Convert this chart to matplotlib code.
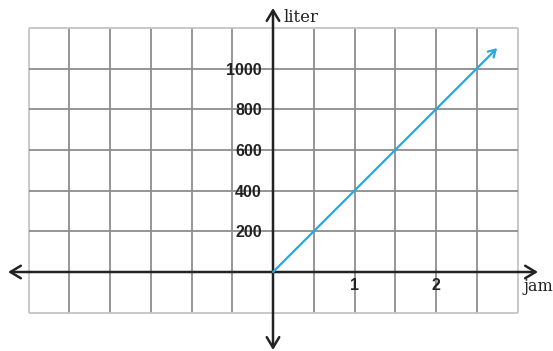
import numpy as np
import matplotlib
matplotlib.use("Agg")
import matplotlib.pyplot as plt

# data
jam = [0, 2.75]
liter = [0, 1100]
x_ticks = [1, 2]
y_ticks = [200, 400, 600, 800, 1000]

fig = plt.figure(figsize=(5.53, 3.51), dpi=100)
ax = fig.add_axes([0, 0, 1, 1])
# pixel mapping: x px = 273 + 81.5*x, y px = 272 - 0.2035*y
ax.set_xlim(-273 / 81.5, 280 / 81.5)
ax.set_ylim(-79 / 0.2035, 272 / 0.2035)
ax.axis("off")

# grid (half hour x 200 liter cells)
gx = np.arange(-3, 3.01, 0.5)
gy = np.arange(-200, 1201, 200)
for v in gx:
    edge = abs(v) == 3
    ax.plot([v, v], [-200, 1200], color="#c4c4c4" if edge else "#8e8e8e",
            lw=1.3, zorder=1, solid_capstyle="butt")
for v in gy:
    edge = v in (-200, 1200)
    ax.plot([-3, 3], [v, v], color="#c4c4c4" if edge else "#8e8e8e",
            lw=1.3, zorder=1, solid_capstyle="butt")

# axes with arrows
axprops = dict(arrowstyle="<->,head_length=0.75,head_width=0.45", color="#222222",
               lw=1.8, shrinkA=0, shrinkB=0)
ax.annotate("", xy=(265 / 81.5, 0), xytext=(-265 / 81.5, 0), arrowprops=axprops, zorder=3)
ax.annotate("", xy=(0, 264 / 0.2035), xytext=(0, -78 / 0.2035), arrowprops=axprops, zorder=3)

# the line
ax.annotate("", xy=(jam[1], liter[1]), xytext=(jam[0], liter[0]),
            arrowprops=dict(arrowstyle="->,head_length=0.5,head_width=0.3",
                            color="#2ba6de", lw=1.6, shrinkA=0, shrinkB=0), zorder=4)

for t in y_ticks:
    ax.text(-0.135, t - 8, str(t), ha="right", va="center", fontsize=11.5,
            fontweight="bold", family="Liberation Sans", color="#222222", zorder=5)
for t in x_ticks:
    ax.text(t, -28, str(t), ha="center", va="top", fontsize=11.5,
            fontweight="bold", family="Liberation Sans", color="#222222", zorder=5)

ax.text(0.13, 1250, "liter", ha="left", va="center", fontsize=12,
        family="DejaVu Serif", color="#222222")
ax.text(3.07, -70, "jam", ha="left", va="center", fontsize=11.5,
        family="DejaVu Serif", color="#222222")

fig.savefig("out.png", dpi=100)
